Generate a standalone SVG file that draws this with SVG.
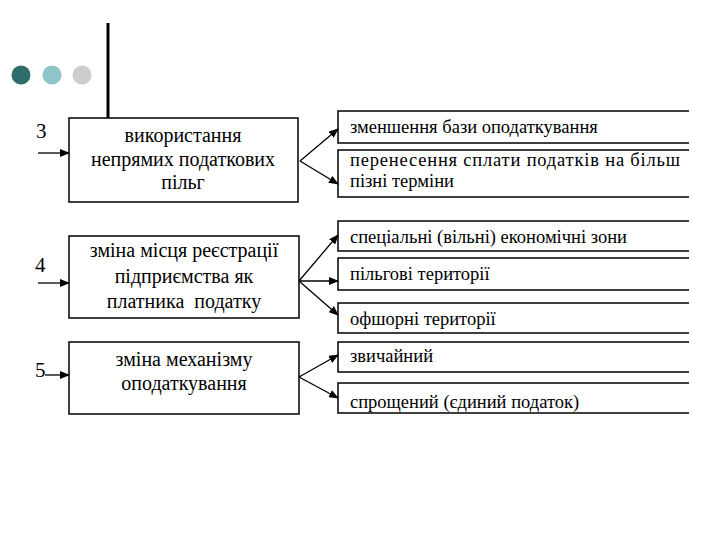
<svg xmlns="http://www.w3.org/2000/svg" width="720" height="540" viewBox="0 0 720 540">
<style>
.box{fill:#fff;stroke:#000;stroke-width:1.5}
.rbox{fill:none;stroke:#000;stroke-width:1.5}
.lt{font-family:'Liberation Serif','Times New Roman',serif;font-size:20px;fill:#000;text-anchor:middle}
.rt{font-family:'Liberation Serif','Times New Roman',serif;font-size:18.5px;fill:#000}
.num{font-family:'Liberation Serif','Times New Roman',serif;font-size:21px;fill:#000}
.con{stroke:#000;stroke-width:1.3;fill:none;marker-end:url(#ah)}
</style>
<defs>
<marker id="ah" markerWidth="10" markerHeight="8" refX="9" refY="4" orient="auto" markerUnits="userSpaceOnUse">
<path d="M0,0 L10,4 L0,8 Z" fill="#000"/>
</marker>
</defs>
<rect width="720" height="540" fill="#fff"/>
<g id="decor">
<circle cx="21" cy="75" r="9.5" fill="#2e6b6b"/>
<circle cx="52" cy="75" r="9.5" fill="#8fc4c9"/>
<circle cx="82" cy="75" r="9.5" fill="#cccccc"/>
<line x1="108" y1="23" x2="108" y2="118" stroke="#000" stroke-width="3"/>
</g>
<g id="labels">
<text class="num" x="36" y="138">3</text>
<text class="num" x="35" y="272">4</text>
<text class="num" x="35" y="377">5</text>
</g>
<g id="nodeA">
<rect class="box" x="69" y="118" width="229" height="84"/>
<text class="lt" x="183" y="142">використання</text>
<text class="lt" x="183" y="166">непрямих податкових</text>
<text class="lt" x="183" y="189">пільг</text>
</g>
<g id="nodeB">
<rect class="box" x="69" y="236" width="230" height="82"/>
<text class="lt" x="184" y="257">зміна місця реєстрації</text>
<text class="lt" x="184" y="283">підприємства як</text>
<text class="lt" x="184" y="308" xml:space="preserve">платника  податку</text>
</g>
<g id="nodeC">
<rect class="box" x="69" y="342" width="230" height="72"/>
<text class="lt" x="184" y="366">зміна механізму</text>
<text class="lt" x="184" y="390">оподаткування</text>
</g>
<g id="r1"><path class="rbox" d="M689,111 H338 V143 H689"/><text class="rt" x="350" y="133">зменшення бази оподаткування</text></g>
<g id="r2"><path class="rbox" d="M689,150 H338 V197 H689"/><text class="rt" x="350" y="166" textLength="330" lengthAdjust="spacing">перенесення сплати податків на більш</text><text class="rt" x="350" y="187">пізні терміни</text></g>
<g id="r3"><path class="rbox" d="M689,221 H338 V251 H689"/><text class="rt" x="350" y="243">спеціальні (вільні) економічні зони</text></g>
<g id="r4"><path class="rbox" d="M689,258 H338 V290 H689"/><text class="rt" x="350" y="280">пільгові території</text></g>
<g id="r5"><path class="rbox" d="M689,303 H338 V333 H689"/><text class="rt" x="350" y="325">офшорні території</text></g>
<g id="r6"><path class="rbox" d="M689,342 H338 V372 H689"/><text class="rt" x="350" y="362">звичайний</text></g>
<g id="r7"><path class="rbox" d="M689,383 H338 V413 H689"/><text class="rt" x="350" y="408">спрощений (єдиний податок)</text></g>
<g id="connectors">
<line class="con" x1="38" y1="153" x2="69" y2="153"/>
<line class="con" x1="38" y1="283" x2="69" y2="283"/>
<line class="con" x1="45" y1="375" x2="69" y2="375"/>
<line class="con" x1="300" y1="161" x2="338" y2="129"/>
<line class="con" x1="300" y1="161" x2="338" y2="184"/>
<line class="con" x1="299" y1="281" x2="338" y2="235"/>
<line class="con" x1="299" y1="281" x2="338" y2="281"/>
<line class="con" x1="299" y1="281" x2="338" y2="315"/>
<line class="con" x1="299" y1="377" x2="338" y2="355"/>
<line class="con" x1="299" y1="377" x2="338" y2="398"/>
</g>
</svg>
